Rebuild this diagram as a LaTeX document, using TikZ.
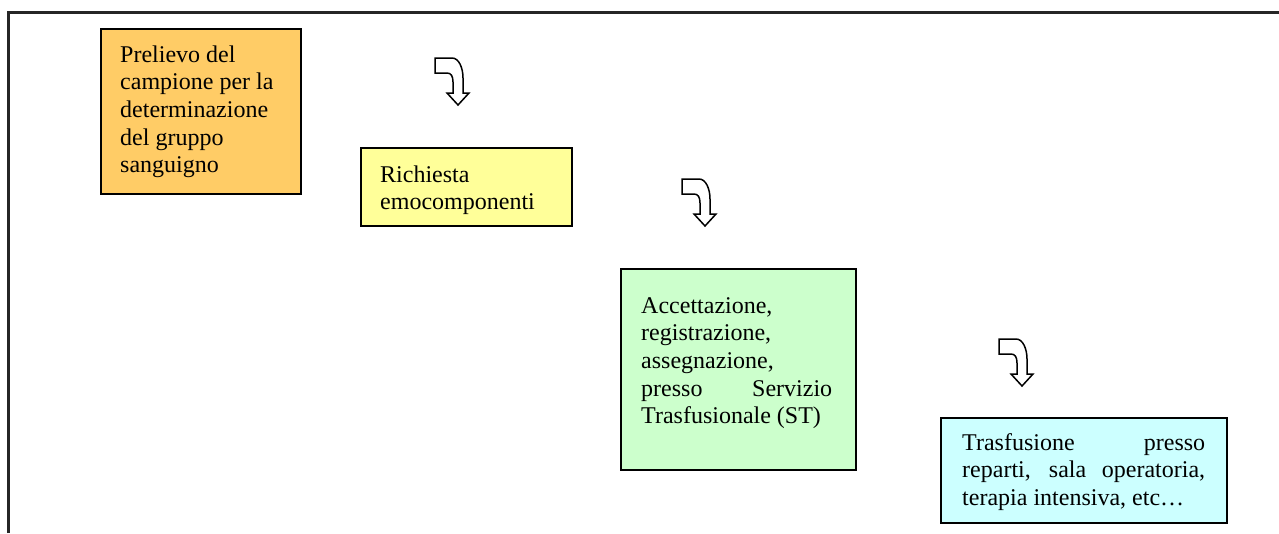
\documentclass[tikz,border=0pt]{standalone}
\usepackage{fontspec}
\setmainfont{Liberation Serif}
\newfontfamily\boxfont{Liberation Serif}
\usetikzlibrary{positioning}
\definecolor{prelievocol}{HTML}{FFCC66}
\definecolor{richiestacol}{HTML}{FFFF99}
\definecolor{accettcol}{HTML}{CCFFCC}
\definecolor{trasfcol}{HTML}{CCFFFF}
\newcommand{\spreadline}[2]{\makebox[#1pt][s]{#2}}

\begin{document}
\begin{tikzpicture}[x=1pt, y=-1pt, every node/.style={inner sep=0pt},
    box/.style={draw=black, line width=2pt, anchor=north west},
    txt/.style={anchor=north west, align=left, font=\boxfont\fontsize{24}{27.6}\selectfont},
    bentarrow/.pic={
        \draw[line width=1.5pt, fill=white, line join=miter]
            (0,0) -- (17,0) .. controls (24,0) and (28,10) .. (28,20) -- (28,35)
            -- (34,35) -- (23,47) -- (12,35) -- (18,35) -- (18,24)
            .. controls (18,18) and (16,15) .. (12,15) -- (0,15) -- cycle;
    }]

    \useasboundingbox (0,0) rectangle (1279,533);

    % frame
    \draw[line width=2.2pt, black!85] (8.5,533) -- (8.5,12.5) -- (1279,12.5);

    % boxes
    \node[box, fill=prelievocol, minimum width=200pt, minimum height=165pt] (prelievo) at (100,28) {};
    \node[box, fill=richiestacol, minimum width=211pt, minimum height=78pt] (richiesta) at (360,147) {};
    \node[box, fill=accettcol, minimum width=235pt, minimum height=201pt] (accettazione) at (620,268) {};
    \node[box, fill=trasfcol, minimum width=286pt, minimum height=105pt] (trasfusione) at (940,417) {};

    % texts
    \node[txt] (prelievo-txt) at (120,42.7) {\strut Prelievo del\\campione per la\\determinazione\\del gruppo\\sanguigno};
    \node[txt] (richiesta-txt) at (380,162.7) {\strut Richiesta\\emocomponenti};
    \node[txt] (accettazione-txt) at (641,293.7) {\strut Accettazione,\\registrazione,\\assegnazione,\\\spreadline{191}{presso Servizio}\\Trasfusionale (ST)};
    \node[txt] (trasfusione-txt) at (962,430.7) {\strut\spreadline{243}{Trasfusione presso}\\\spreadline{243}{reparti, sala operatoria,}\\terapia intensiva, etc…};

    % arrows
    \foreach \px/\py in {435/58, 682/179, 999/339} {
        \pic at (\px,\py) {bentarrow};
    }
\end{tikzpicture}
\end{document}
